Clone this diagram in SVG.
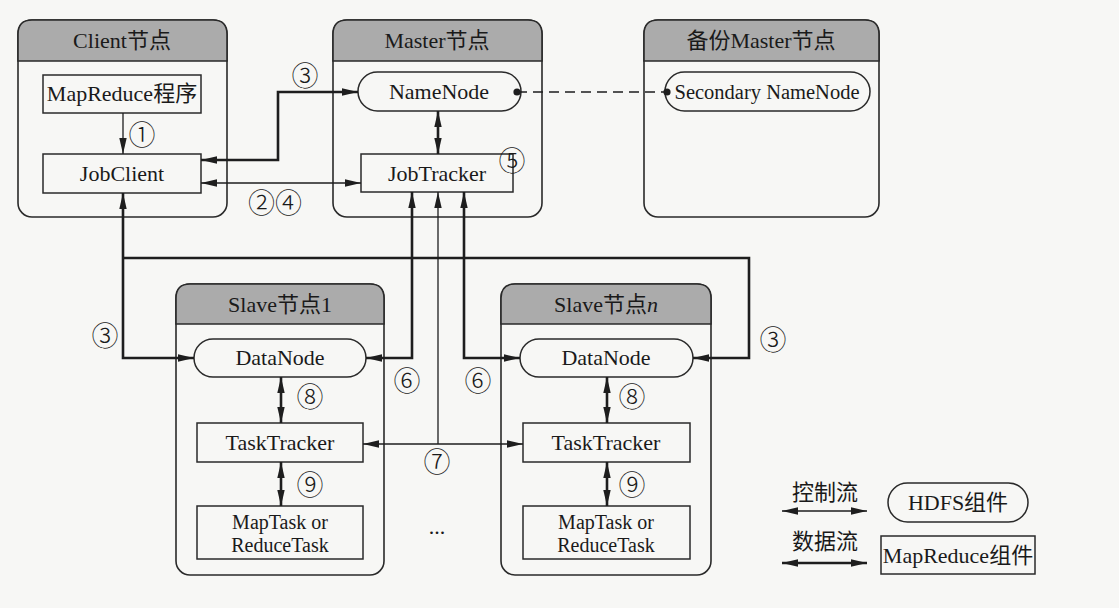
<svg xmlns="http://www.w3.org/2000/svg" width="1119" height="608" viewBox="0 0 1119 608">
<defs>
<style>
.bg{fill:#f7f7f5}
.frame{fill:#f7f7f5;stroke:#2a2a2a;stroke-width:1.6}
.head{fill:#ababab;stroke:#2a2a2a;stroke-width:1.6}
.box{fill:#f7f7f5;stroke:#2a2a2a;stroke-width:1.5}
.t{font-family:"Liberation Serif","Noto Sans CJK SC",serif;font-size:22px;fill:#1a1a1a;text-anchor:middle}
.s{font-size:20px}
.n{font-family:"Noto Sans CJK SC","DejaVu Sans",sans-serif;font-size:27px;font-weight:300;fill:#1a1a1a;text-anchor:middle}
.thick{fill:none;stroke:#1e1e1e;stroke-width:2.6}
.thin{fill:none;stroke:#1e1e1e;stroke-width:1.3}
.dash{fill:none;stroke:#1e1e1e;stroke-width:1.4;stroke-dasharray:10 6}
</style>
<marker id="ar" markerUnits="userSpaceOnUse" markerWidth="16" markerHeight="8" refX="16" refY="4" orient="auto-start-reverse" viewBox="0 0 16 8">
<path d="M0,0.3 L16,4 L0,7.7 Z" fill="#1e1e1e"/>
</marker>
</defs>
<rect class="bg" x="0" y="0" width="1119" height="608"/>

<g id="client">
<rect class="frame" x="18" y="20" width="209" height="197" rx="14"/>
<path class="head" d="M18,61 V34 Q18,20 32,20 H213 Q227,20 227,34 V61 Z"/>
<text class="t" x="122" y="48">Client节点</text>
<rect class="box" x="43" y="75" width="158" height="38"/>
<text class="t" x="122" y="101">MapReduce程序</text>
<rect class="box" x="43" y="154" width="158" height="39"/>
<text class="t" x="122" y="181">JobClient</text>
</g>

<g id="master">
<rect class="frame" x="333" y="20" width="209" height="197" rx="14"/>
<path class="head" d="M333,61 V34 Q333,20 347,20 H528 Q542,20 542,34 V61 Z"/>
<text class="t" x="437" y="48">Master节点</text>
<rect class="box" x="358" y="72" width="163" height="39" rx="19.5"/>
<text class="t" x="439" y="99">NameNode</text>
<rect class="box" x="361" y="154" width="152" height="38"/>
<text class="t" x="437" y="181">JobTracker</text>
</g>

<g id="backup-master">
<rect class="frame" x="644" y="20" width="235" height="197" rx="14"/>
<path class="head" d="M644,61 V34 Q644,20 658,20 H865 Q879,20 879,34 V61 Z"/>
<text class="t" x="761" y="48">备份Master节点</text>
<rect class="box" x="665" y="72" width="205" height="39" rx="19.5"/>
<text class="t" x="767" y="99" style="font-size:20.5px">Secondary NameNode</text>
</g>

<g id="slave1">
<rect class="frame" x="176" y="284" width="208" height="291" rx="14"/>
<path class="head" d="M176,324 V298 Q176,284 190,284 H370 Q384,284 384,298 V324 Z"/>
<text class="t" x="280" y="312">Slave节点1</text>
<rect class="box" x="194" y="339" width="172" height="38" rx="19"/>
<text class="t" x="280" y="365">DataNode</text>
<rect class="box" x="197" y="423" width="166" height="39"/>
<text class="t" x="280" y="450">TaskTracker</text>
<rect class="box" x="197" y="506" width="166" height="53"/>
<text class="t s" x="280" y="529">MapTask or</text>
<text class="t s" x="280" y="552">ReduceTask</text>
</g>

<g id="slaven">
<rect class="frame" x="501" y="284" width="210" height="291" rx="14"/>
<path class="head" d="M501,324 V298 Q501,284 515,284 H697 Q711,284 711,298 V324 Z"/>
<text class="t" x="606" y="312">Slave节点<tspan font-style="italic">n</tspan></text>
<rect class="box" x="520" y="339" width="173" height="38" rx="19"/>
<text class="t" x="606" y="365">DataNode</text>
<rect class="box" x="523" y="423" width="167" height="39"/>
<text class="t" x="606" y="450">TaskTracker</text>
<rect class="box" x="523" y="506" width="167" height="53"/>
<text class="t s" x="606" y="529">MapTask or</text>
<text class="t s" x="606" y="552">ReduceTask</text>
</g>

<g id="legend">
<text class="t" x="825" y="500">控制流</text>
<path class="thin" d="M782,511 H867" marker-start="url(#ar)" marker-end="url(#ar)"/>
<text class="t" x="825" y="549">数据流</text>
<path class="thick" d="M782,563 H867" marker-start="url(#ar)" marker-end="url(#ar)"/>
<rect class="box" x="888" y="483" width="140" height="39" rx="19.5"/>
<text class="t" x="958" y="510">HDFS组件</text>
<rect class="box" x="881" y="536" width="154" height="38"/>
<text class="t" x="958" y="563">MapReduce组件</text>
</g>

<g id="connectors">
<path class="thin" d="M123,113 V154" marker-end="url(#ar)"/>
<path class="thick" d="M201,160 H278 V92 H358" marker-start="url(#ar)" marker-end="url(#ar)"/>
<path class="thin" d="M201,183 H361" marker-start="url(#ar)" marker-end="url(#ar)"/>
<path class="thick" d="M438,111 V154" marker-start="url(#ar)" marker-end="url(#ar)"/>
<path class="dash" d="M517,92 H667"/>
<circle cx="517" cy="92" r="3.6" fill="#1e1e1e"/>
<circle cx="667" cy="92" r="3.6" fill="#1e1e1e"/>
<path class="thick" d="M123,193 V358 H194" marker-start="url(#ar)" marker-end="url(#ar)"/>
<path class="thick" d="M123,258 H749 V358 H693" marker-end="url(#ar)"/>
<path class="thick" d="M412,192 V358 H366" marker-start="url(#ar)" marker-end="url(#ar)"/>
<path class="thick" d="M464,192 V358 H520" marker-start="url(#ar)" marker-end="url(#ar)"/>
<path class="thin" d="M438,192 V444" marker-start="url(#ar)"/>
<path class="thin" d="M363,444 H523" marker-start="url(#ar)" marker-end="url(#ar)"/>
<path class="thick" d="M281,377 V423" marker-start="url(#ar)" marker-end="url(#ar)"/>
<path class="thick" d="M281,462 V506" marker-start="url(#ar)" marker-end="url(#ar)"/>
<path class="thick" d="M607,377 V423" marker-start="url(#ar)" marker-end="url(#ar)"/>
<path class="thick" d="M607,462 V506" marker-start="url(#ar)" marker-end="url(#ar)"/>
</g>

<g id="labels">
<text class="n" x="142" y="145">①</text>
<text class="n" x="305" y="86">③</text>
<text class="n" x="275" y="213">②④</text>
<text class="n" x="512" y="171">⑤</text>
<text class="n" x="105" y="346">③</text>
<text class="n" x="773" y="350">③</text>
<text class="n" x="407" y="391">⑥</text>
<text class="n" x="478" y="391">⑥</text>
<text class="n" x="437" y="472">⑦</text>
<text class="n" x="310" y="407">⑧</text>
<text class="n" x="310" y="495">⑨</text>
<text class="n" x="632" y="407">⑧</text>
<text class="n" x="632" y="495">⑨</text>
<text class="t" x="437" y="534">...</text>
</g>
</svg>
